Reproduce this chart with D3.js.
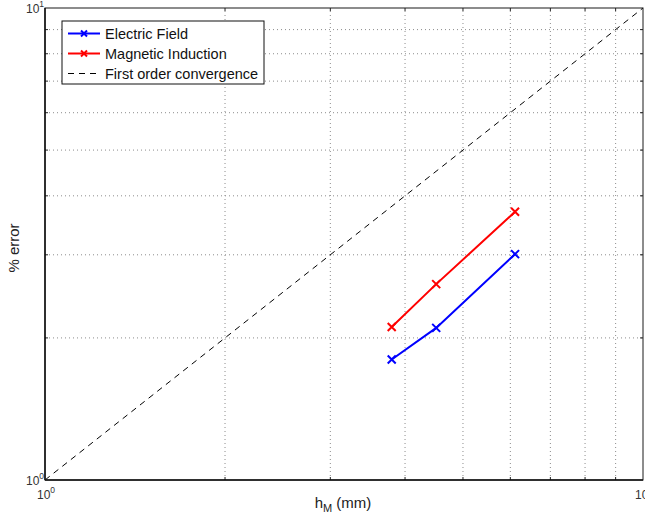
<!DOCTYPE html>
<html>
<head>
<meta charset="utf-8">
<script src="https://cdn.jsdelivr.net/npm/d3@7"></script>
<style>
  body { margin: 0; background: #fff; }
  svg { font-family: "Liberation Sans", Arial, sans-serif; }
</style>
</head>
<body>
<div id="chart"></div>
<script>
// mesh size h_M (mm) and % error per field
const hValues = [3.80, 4.51, 6.11];
const electricErr = [1.80, 2.10, 3.01];
const magneticErr = [2.11, 2.60, 3.70];
const refLine = [1, 10];
const decadeTicks = [1, 10];
const minorTicks = [2, 3, 4, 5, 6, 7, 8, 9];
const seriesNames = ['Electric Field', 'Magnetic Induction', 'First order convergence'];
const seriesColors = ['#0000ff', '#ff0000', '#000000'];

const width = 645,
      height = 519,
      margin = {left: 45, right: 2, top: 8, bottom: 39};

const x = d3.scaleLog().domain([1, 10]).range([margin.left, width - margin.right]);
const y = d3.scaleLog().domain([1, 10]).range([height - margin.bottom, margin.top]);

const svg = d3.select('#chart').append('svg')
              .attr('width', width)
              .attr('height', height);

// dotted grid
const grid = svg.append('g');
grid.selectAll('line.gx')
    .data(minorTicks)
    .enter().append('line')
    .attr('x1', d => x(d)).attr('x2', d => x(d))
    .attr('y1', y(1)).attr('y2', y(10))
    .attr('stroke', '#8c8c8c').attr('stroke-dasharray', '1,3');
grid.selectAll('line.gy')
    .data(minorTicks)
    .enter().append('line')
    .attr('y1', d => y(d)).attr('y2', d => y(d))
    .attr('x1', x(1)).attr('x2', x(10))
    .attr('stroke', '#8c8c8c').attr('stroke-dasharray', '1,3');

// minor ticks on all four sides, inward
const tickLen = 3;
const ticks = svg.append('g').attr('stroke', '#222');
minorTicks.forEach(t => {
  ticks.append('line').attr('x1', x(t)).attr('x2', x(t)).attr('y1', y(1)).attr('y2', y(1) - tickLen);
  ticks.append('line').attr('x1', x(t)).attr('x2', x(t)).attr('y1', y(10)).attr('y2', y(10) + tickLen);
  ticks.append('line').attr('y1', y(t)).attr('y2', y(t)).attr('x1', x(1)).attr('x2', x(1) + tickLen);
  ticks.append('line').attr('y1', y(t)).attr('y2', y(t)).attr('x1', x(10)).attr('x2', x(10) - tickLen);
});

// reference slope
const line = d3.line().x(d => x(d[0])).y(d => y(d[1]));
svg.append('path')
   .attr('d', line(refLine.map(v => [v, v])))
   .attr('fill', 'none')
   .attr('stroke', '#000')
   .attr('stroke-dasharray', '6,5');

// series
const series = [electricErr, magneticErr];
series.forEach((vals, i) => {
  const pts = hValues.map((h, j) => [h, vals[j]]);
  svg.append('path')
     .attr('d', line(pts))
     .attr('fill', 'none')
     .attr('stroke', seriesColors[i])
     .attr('stroke-width', 2);
  svg.selectAll(null)
     .data(pts)
     .enter().append('path')
     .attr('d', d => {
       const cx = x(d[0]), cy = y(d[1]), r = 4;
       return `M${cx - r},${cy - r}L${cx + r},${cy + r}M${cx - r},${cy + r}L${cx + r},${cy - r}`;
     })
     .attr('stroke', seriesColors[i])
     .attr('stroke-width', 2);
});

// axes box
svg.append('rect')
   .attr('x', x(1)).attr('y', y(10))
   .attr('width', x(10) - x(1)).attr('height', y(1) - y(10))
   .attr('fill', 'none').attr('stroke', '#1a1a1a').attr('stroke-width', 1);
svg.append('line')
   .attr('x1', x(1)).attr('x2', x(1)).attr('y1', y(10)).attr('y2', y(1))
   .attr('stroke', '#111').attr('stroke-width', 1.5);
svg.append('line')
   .attr('x1', x(1)).attr('x2', x(10)).attr('y1', y(1)).attr('y2', y(1))
   .attr('stroke', '#111').attr('stroke-width', 1.5);

// decade labels
const expOf = d => Math.round(Math.log10(d));
function powLabel(sel) {
  sel.text('');
  sel.append('tspan').text('10');
  sel.append('tspan').attr('dy', -6).attr('font-size', 8.5).text(d => expOf(d));
}
svg.selectAll('text.xt')
   .data(decadeTicks)
   .enter().append('text')
   .attr('x', d => x(d) - 8).attr('y', y(1) + 19)
   .attr('font-size', 12).attr('fill', '#333')
   .call(powLabel);
svg.selectAll('text.yt')
   .data(decadeTicks)
   .enter().append('text')
   .attr('x', x(1) - 19).attr('y', d => y(d) + 5)
   .attr('font-size', 12).attr('fill', '#333')
   .call(powLabel);

// axis titles
const xt = svg.append('text')
   .attr('x', 343).attr('y', 508)
   .attr('text-anchor', 'middle').attr('font-size', 15).attr('fill', '#222');
xt.append('tspan').text('h');
xt.append('tspan').attr('dy', 4).attr('font-size', 11).text('M');
xt.append('tspan').attr('dy', -4).text(' (mm)');

svg.append('text')
   .attr('transform', 'translate(19, 248) rotate(-90)')
   .attr('text-anchor', 'middle').attr('font-size', 15).attr('fill', '#222')
   .text('% error');

// legend
const lg = svg.append('g').attr('transform', 'translate(62, 21)');
lg.append('rect')
  .attr('width', 202).attr('height', 63)
  .attr('fill', '#fff').attr('stroke', '#111').attr('stroke-width', 1);
seriesNames.forEach((name, i) => {
  const yy = 12.5 + i * 20;
  lg.append('line')
    .attr('x1', 6).attr('x2', 38).attr('y1', yy).attr('y2', yy)
    .attr('stroke', seriesColors[i])
    .attr('stroke-width', i < 2 ? 2 : 1)
    .attr('stroke-dasharray', i < 2 ? null : '6,5');
  if (i < 2) {
    lg.append('path')
      .attr('d', `M19,${yy - 3}L25,${yy + 3}M19,${yy + 3}L25,${yy - 3}`)
      .attr('stroke', seriesColors[i]).attr('stroke-width', 2);
  }
  lg.append('text')
    .attr('x', 43).attr('y', yy + 5)
    .attr('font-size', 14.5).attr('fill', '#111')
    .text(name);
});
</script>
</body>
</html>
